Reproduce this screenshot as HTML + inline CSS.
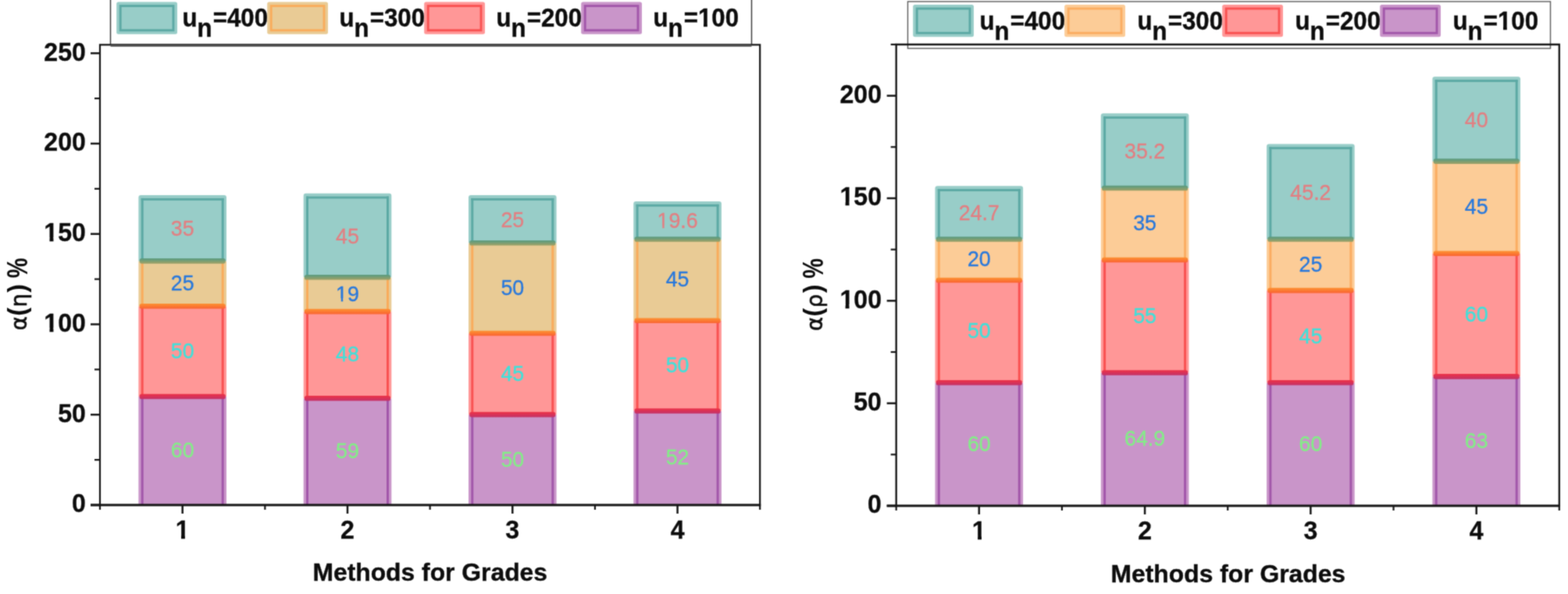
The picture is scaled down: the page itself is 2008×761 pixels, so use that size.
<!DOCTYPE html>
<html lang="en">
<head>
<meta charset="utf-8">
<title>Methods for Grades</title>
<style>
html,body{margin:0;padding:0;background:#fff;}
body{width:2008px;height:761px;overflow:hidden;}
svg{display:block;}
text{font-family:"Liberation Sans",Arial,Helvetica,sans-serif;}
.t{font-size:33.3px;font-weight:bold;fill:#0c0c0c;stroke:#0c0c0c;stroke-width:0.3px;}
.a{font-size:31.6px;font-weight:bold;fill:#0c0c0c;stroke:#0c0c0c;stroke-width:0.4px;}
.y{font-size:30px;font-weight:bold;fill:#0c0c0c;}
.g{font-weight:normal;font-family:"DejaVu Sans","Liberation Sans",sans-serif;font-size:27.5px;stroke:#0c0c0c;stroke-width:0.6px;}
.p{font-size:32.5px;}
.l{font-size:32.4px;font-weight:bold;fill:#0c0c0c;stroke:#0c0c0c;stroke-width:0.4px;}
.v{font-size:28.5px;stroke-width:0.35px;}
</style>
</head>
<body>
<svg width="2008" height="761" viewBox="0 0 2008 761">
<defs>
<linearGradient id="gtt" x1="0" y1="0" x2="0" y2="1"><stop offset="0.15" stop-color="#5f9b7d"/><stop offset="0.85" stop-color="#96a069"/></linearGradient>
<linearGradient id="grt" x1="0" y1="0" x2="0" y2="1"><stop offset="0.15" stop-color="#fc8c32"/><stop offset="0.85" stop-color="#fa6932"/></linearGradient>
<linearGradient id="gpr" x1="0" y1="0" x2="0" y2="1"><stop offset="0.15" stop-color="#e8324b"/><stop offset="0.85" stop-color="#c83264"/></linearGradient>
<clipPath id="k1"><path clip-rule="evenodd" d="M-400 -60H400V40H-400ZM-15.17 -3.43H-8.68V2.0H-15.17ZM-6.16 -3.43H0.12V2.0H-6.16Z"/></clipPath>
<clipPath id="k2"><path clip-rule="evenodd" d="M-400 -60H400V40H-400ZM-27.05 -3.43H-20.55V2.0H-27.05ZM-18.03 -3.43H-11.76V2.0H-18.03Z"/></clipPath>
<clipPath id="k3"><path clip-rule="evenodd" d="M-400 -60H400V40H-400ZM-54.96 -4.70H-48.04V2.0H-54.96ZM-42.97 -4.70H-36.46V2.0H-42.97Z"/></clipPath>
<clipPath id="k4"><path clip-rule="evenodd" d="M-400 -60H400V40H-400ZM-54.96 -4.70H-48.04V2.0H-54.96ZM-42.97 -4.70H-36.46V2.0H-42.97Z"/></clipPath>
<clipPath id="k5"><path clip-rule="evenodd" d="M-400 -60H400V40H-400ZM-8.66 -4.70H-1.74V2.0H-8.66ZM3.33 -4.70H9.83V2.0H3.33Z"/></clipPath>
<clipPath id="k6"><path clip-rule="evenodd" d="M-400 -60H400V40H-400ZM60.25 -4.61H67.02V2.0H60.25ZM71.97 -4.61H78.33V2.0H71.97Z"/></clipPath>
<clipPath id="k7"><path clip-rule="evenodd" d="M-400 -60H400V40H-400ZM-54.96 -4.70H-48.04V2.0H-54.96ZM-42.97 -4.70H-36.46V2.0H-42.97Z"/></clipPath>
<clipPath id="k8"><path clip-rule="evenodd" d="M-400 -60H400V40H-400ZM-54.96 -4.70H-48.04V2.0H-54.96ZM-42.97 -4.70H-36.46V2.0H-42.97Z"/></clipPath>
<clipPath id="k9"><path clip-rule="evenodd" d="M-400 -60H400V40H-400ZM-8.66 -4.70H-1.74V2.0H-8.66ZM3.33 -4.70H9.83V2.0H3.33Z"/></clipPath>
<clipPath id="k10"><path clip-rule="evenodd" d="M-400 -60H400V40H-400ZM60.25 -4.61H67.02V2.0H60.25ZM71.97 -4.61H78.33V2.0H71.97Z"/></clipPath>
<filter id="soft" filterUnits="userSpaceOnUse" x="0" y="0" width="2008" height="761" color-interpolation-filters="sRGB"><feConvolveMatrix order="3" kernelMatrix="0.0841 0.2900 0.0841 0.2900 1.0000 0.2900 0.0841 0.2900 0.0841" edgeMode="duplicate" preserveAlpha="false"/></filter>
</defs>
<g filter="url(#soft)">
<rect width="2008" height="761" fill="#fff"/>
<g id="c1">
<g class="ln">
<rect x="141.5" y="-5" width="821.0" height="62.3" fill="#fff" stroke="#333" stroke-width="1.4"/>
</g>
<g class="bars">
<rect x="149.20" y="2.60" width="77.80" height="41.20" rx="2.5" fill="#98cdc8"/><rect x="154.20" y="7.60" width="67.80" height="31.20" fill="none" stroke="#5ca9a4" stroke-width="2.9"/>
<rect x="342.20" y="2.60" width="77.80" height="41.20" rx="2.5" fill="#e9cb95"/><rect x="347.20" y="7.60" width="67.80" height="31.20" fill="none" stroke="#f9ac5c" stroke-width="2.9"/>
<rect x="543.20" y="2.60" width="77.80" height="41.20" rx="2.5" fill="#ff9797"/><rect x="548.20" y="7.60" width="67.80" height="31.20" fill="none" stroke="#f95252" stroke-width="2.9"/>
<rect x="744.20" y="2.60" width="77.80" height="41.20" rx="2.5" fill="#c995c9"/><rect x="749.20" y="7.60" width="67.80" height="31.20" fill="none" stroke="#a257aa" stroke-width="2.9"/>
<rect x="177.40" y="508.09" width="112.60" height="138.91" fill="#c995c9"/>
<rect x="180.70" y="508.09" width="3.0" height="138.91" fill="#a257aa"/>
<rect x="283.70" y="508.09" width="3.0" height="138.91" fill="#a257aa"/>
<rect x="177.40" y="392.33" width="112.60" height="115.76" fill="#ff9797"/>
<rect x="180.70" y="392.33" width="3.0" height="115.76" fill="#f95252"/>
<rect x="283.70" y="392.33" width="3.0" height="115.76" fill="#f95252"/>
<rect x="177.40" y="334.45" width="112.60" height="57.88" fill="#e9cb95"/>
<rect x="180.70" y="334.45" width="3.0" height="57.88" fill="#f9ac5c"/>
<rect x="283.70" y="334.45" width="3.0" height="57.88" fill="#f9ac5c"/>
<path d="M177.40 334.45V253.12Q177.40 250.12 180.40 250.12H287.00Q290.00 250.12 290.00 253.12V334.45Z" fill="#98cdc8"/>
<rect x="180.70" y="253.92" width="106.00" height="2.9" fill="#5ca9a4"/>
<rect x="180.70" y="253.92" width="3.0" height="81.03" fill="#5ca9a4"/>
<rect x="283.70" y="253.92" width="3.0" height="81.03" fill="#5ca9a4"/>
<rect x="178.70" y="504.69" width="110.00" height="6.6" rx="2.6" fill="url(#gpr)"/>
<rect x="178.70" y="388.93" width="110.00" height="6.6" rx="2.6" fill="url(#grt)"/>
<rect x="178.70" y="331.05" width="110.00" height="6.6" rx="2.6" fill="url(#gtt)"/>
<rect x="388.70" y="510.40" width="112.60" height="136.60" fill="#c995c9"/>
<rect x="392.00" y="510.40" width="3.0" height="136.60" fill="#a257aa"/>
<rect x="495.00" y="510.40" width="3.0" height="136.60" fill="#a257aa"/>
<rect x="388.70" y="399.27" width="112.60" height="111.13" fill="#ff9797"/>
<rect x="392.00" y="399.27" width="3.0" height="111.13" fill="#f95252"/>
<rect x="495.00" y="399.27" width="3.0" height="111.13" fill="#f95252"/>
<rect x="388.70" y="355.28" width="112.60" height="43.99" fill="#e9cb95"/>
<rect x="392.00" y="355.28" width="3.0" height="43.99" fill="#f9ac5c"/>
<rect x="495.00" y="355.28" width="3.0" height="43.99" fill="#f9ac5c"/>
<path d="M388.70 355.28V250.80Q388.70 247.80 391.70 247.80H498.30Q501.30 247.80 501.30 250.80V355.28Z" fill="#98cdc8"/>
<rect x="392.00" y="251.60" width="106.00" height="2.9" fill="#5ca9a4"/>
<rect x="392.00" y="251.60" width="3.0" height="104.18" fill="#5ca9a4"/>
<rect x="495.00" y="251.60" width="3.0" height="104.18" fill="#5ca9a4"/>
<rect x="390.00" y="507.00" width="110.00" height="6.6" rx="2.6" fill="url(#gpr)"/>
<rect x="390.00" y="395.87" width="110.00" height="6.6" rx="2.6" fill="url(#grt)"/>
<rect x="390.00" y="351.88" width="110.00" height="6.6" rx="2.6" fill="url(#gtt)"/>
<rect x="600.00" y="531.24" width="112.60" height="115.76" fill="#c995c9"/>
<rect x="603.30" y="531.24" width="3.0" height="115.76" fill="#a257aa"/>
<rect x="706.30" y="531.24" width="3.0" height="115.76" fill="#a257aa"/>
<rect x="600.00" y="427.06" width="112.60" height="104.18" fill="#ff9797"/>
<rect x="603.30" y="427.06" width="3.0" height="104.18" fill="#f95252"/>
<rect x="706.30" y="427.06" width="3.0" height="104.18" fill="#f95252"/>
<rect x="600.00" y="311.30" width="112.60" height="115.76" fill="#e9cb95"/>
<rect x="603.30" y="311.30" width="3.0" height="115.76" fill="#f9ac5c"/>
<rect x="706.30" y="311.30" width="3.0" height="115.76" fill="#f9ac5c"/>
<path d="M600.00 311.30V253.12Q600.00 250.12 603.00 250.12H709.60Q712.60 250.12 712.60 253.12V311.30Z" fill="#98cdc8"/>
<rect x="603.30" y="253.92" width="106.00" height="2.9" fill="#5ca9a4"/>
<rect x="603.30" y="253.92" width="3.0" height="57.88" fill="#5ca9a4"/>
<rect x="706.30" y="253.92" width="3.0" height="57.88" fill="#5ca9a4"/>
<rect x="601.30" y="527.84" width="110.00" height="6.6" rx="2.6" fill="url(#gpr)"/>
<rect x="601.30" y="423.66" width="110.00" height="6.6" rx="2.6" fill="url(#grt)"/>
<rect x="601.30" y="307.90" width="110.00" height="6.6" rx="2.6" fill="url(#gtt)"/>
<rect x="811.30" y="526.61" width="112.60" height="120.39" fill="#c995c9"/>
<rect x="814.60" y="526.61" width="3.0" height="120.39" fill="#a257aa"/>
<rect x="917.60" y="526.61" width="3.0" height="120.39" fill="#a257aa"/>
<rect x="811.30" y="410.85" width="112.60" height="115.76" fill="#ff9797"/>
<rect x="814.60" y="410.85" width="3.0" height="115.76" fill="#f95252"/>
<rect x="917.60" y="410.85" width="3.0" height="115.76" fill="#f95252"/>
<rect x="811.30" y="306.67" width="112.60" height="104.18" fill="#e9cb95"/>
<rect x="814.60" y="306.67" width="3.0" height="104.18" fill="#f9ac5c"/>
<rect x="917.60" y="306.67" width="3.0" height="104.18" fill="#f9ac5c"/>
<path d="M811.30 306.67V260.99Q811.30 257.99 814.30 257.99H920.90Q923.90 257.99 923.90 260.99V306.67Z" fill="#98cdc8"/>
<rect x="814.60" y="261.79" width="106.00" height="2.9" fill="#5ca9a4"/>
<rect x="814.60" y="261.79" width="3.0" height="45.38" fill="#5ca9a4"/>
<rect x="917.60" y="261.79" width="3.0" height="45.38" fill="#5ca9a4"/>
<rect x="812.60" y="523.21" width="110.00" height="6.6" rx="2.6" fill="url(#gpr)"/>
<rect x="812.60" y="407.45" width="110.00" height="6.6" rx="2.6" fill="url(#grt)"/>
<rect x="812.60" y="303.27" width="110.00" height="6.6" rx="2.6" fill="url(#gtt)"/>
</g>
<g class="ln">
<path d="M128.0 647V57.4H973.2V647" fill="none" stroke="#161616" stroke-width="2.2"/>
<path d="M141.5 58.2H962.5" fill="none" stroke="#4a4a4a" stroke-width="3.2"/>
<path d="M116.0 647H974.2" fill="none" stroke="#161616" stroke-width="2.8"/>
<path d="M116.0 647.00H128.0" stroke="#161616" stroke-width="2.5"/>
<path d="M116.0 531.24H128.0" stroke="#161616" stroke-width="2.5"/>
<path d="M116.0 415.48H128.0" stroke="#161616" stroke-width="2.5"/>
<path d="M116.0 299.72H128.0" stroke="#161616" stroke-width="2.5"/>
<path d="M116.0 183.96H128.0" stroke="#161616" stroke-width="2.5"/>
<path d="M116.0 68.20H128.0" stroke="#161616" stroke-width="2.5"/>
<path d="M121.0 589.12H128.0" stroke="#161616" stroke-width="2.2"/>
<path d="M121.0 473.36H128.0" stroke="#161616" stroke-width="2.2"/>
<path d="M121.0 357.60H128.0" stroke="#161616" stroke-width="2.2"/>
<path d="M121.0 241.84H128.0" stroke="#161616" stroke-width="2.2"/>
<path d="M121.0 126.08H128.0" stroke="#161616" stroke-width="2.2"/>
<path d="M233.7 647v11" stroke="#161616" stroke-width="2.5"/>
<path d="M445.0 647v11" stroke="#161616" stroke-width="2.5"/>
<path d="M656.3 647v11" stroke="#161616" stroke-width="2.5"/>
<path d="M867.6 647v11" stroke="#161616" stroke-width="2.5"/>
<path d="M339.35 647v6" stroke="#161616" stroke-width="2.2"/>
<path d="M550.65 647v6" stroke="#161616" stroke-width="2.2"/>
<path d="M761.95 647v6" stroke="#161616" stroke-width="2.2"/>
<path d="M128.0 647v6" stroke="#161616" stroke-width="2.2"/>
<path d="M973.2 647v6" stroke="#161616" stroke-width="2.2"/>
</g>
<g class="tx">
<text class="v" text-anchor="middle" transform="translate(233.70 585.94) scale(0.94 1)" fill="#84ec88" stroke="#84ec88">60</text>
<text class="v" text-anchor="middle" transform="translate(233.70 458.61) scale(0.94 1)" fill="#3fe0da" stroke="#3fe0da">50</text>
<text class="v" text-anchor="middle" transform="translate(233.70 371.79) scale(0.94 1)" fill="#2878dc" stroke="#2878dc">25</text>
<text class="v" text-anchor="middle" transform="translate(233.70 302.33) scale(0.94 1)" fill="#e27f82" stroke="#e27f82">35</text>
<text class="v" text-anchor="middle" transform="translate(445.00 587.10) scale(0.94 1)" fill="#84ec88" stroke="#84ec88">59</text>
<text class="v" text-anchor="middle" transform="translate(445.00 463.24) scale(0.94 1)" fill="#3fe0da" stroke="#3fe0da">48</text>
<text class="v" text-anchor="middle" transform="translate(445.00 385.68) scale(0.94 1)" fill="#2878dc" stroke="#2878dc" clip-path="url(#k1)">19</text>
<text class="v" text-anchor="middle" transform="translate(445.00 311.59) scale(0.94 1)" fill="#e27f82" stroke="#e27f82">45</text>
<text class="v" text-anchor="middle" transform="translate(656.30 597.52) scale(0.94 1)" fill="#84ec88" stroke="#84ec88">50</text>
<text class="v" text-anchor="middle" transform="translate(656.30 487.55) scale(0.94 1)" fill="#3fe0da" stroke="#3fe0da">45</text>
<text class="v" text-anchor="middle" transform="translate(656.30 377.58) scale(0.94 1)" fill="#2878dc" stroke="#2878dc">50</text>
<text class="v" text-anchor="middle" transform="translate(656.30 290.76) scale(0.94 1)" fill="#e27f82" stroke="#e27f82">25</text>
<text class="v" text-anchor="middle" transform="translate(867.60 595.20) scale(0.94 1)" fill="#84ec88" stroke="#84ec88">52</text>
<text class="v" text-anchor="middle" transform="translate(867.60 477.13) scale(0.94 1)" fill="#3fe0da" stroke="#3fe0da">50</text>
<text class="v" text-anchor="middle" transform="translate(867.60 367.16) scale(0.94 1)" fill="#2878dc" stroke="#2878dc">45</text>
<text class="v" text-anchor="middle" transform="translate(867.60 292.38) scale(0.94 1)" fill="#e27f82" stroke="#e27f82" clip-path="url(#k2)">19.6</text>
<text class="t" text-anchor="end" transform="translate(109.90 656.30) scale(0.965 1)">0</text>
<text class="t" text-anchor="end" transform="translate(109.90 540.54) scale(0.965 1)">50</text>
<text class="t" text-anchor="end" transform="translate(109.90 424.78) scale(0.965 1)" clip-path="url(#k3)">100</text>
<text class="t" text-anchor="end" transform="translate(109.90 309.02) scale(0.965 1)" clip-path="url(#k4)">150</text>
<text class="t" text-anchor="end" transform="translate(109.90 193.26) scale(0.965 1)">200</text>
<text class="t" text-anchor="end" transform="translate(109.90 77.50) scale(0.965 1)">250</text>
<text class="t" text-anchor="middle" transform="translate(233.70 690.00) scale(0.965 1)" clip-path="url(#k5)">1</text>
<text class="t" text-anchor="middle" transform="translate(445.00 690.00) scale(0.965 1)">2</text>
<text class="t" text-anchor="middle" transform="translate(656.30 690.00) scale(0.965 1)">3</text>
<text class="t" text-anchor="middle" transform="translate(867.60 690.00) scale(0.965 1)">4</text>
<text class="a" text-anchor="middle" transform="translate(550.70 744.00) scale(1.007 1)">Methods for Grades</text>
<text class="y" transform="translate(34.2 423.30) rotate(-90)"><tspan class="g">α</tspan><tspan class="p" dx="0.3" dy="-1.3">(</tspan><tspan class="g" dx="0.5" dy="1.3">η</tspan><tspan class="p" dx="1.3" dy="-1.3">)</tspan></text>
<text class="y" transform="translate(34.6 356.20) rotate(-90) scale(0.97 1.25)">%</text>
<text class="l" text-anchor="start" transform="translate(233.50 34.40) scale(0.963 1)">u<tspan dy="12.6">n</tspan><tspan dy="-12.6" dx="1.2">=400</tspan></text>
<text class="l" text-anchor="start" transform="translate(434.50 34.40) scale(0.963 1)">u<tspan dy="12.6">n</tspan><tspan dy="-12.6" dx="1.2">=300</tspan></text>
<text class="l" text-anchor="start" transform="translate(635.50 34.40) scale(0.963 1)">u<tspan dy="12.6">n</tspan><tspan dy="-12.6" dx="1.2">=200</tspan></text>
<text class="l" text-anchor="start" transform="translate(836.50 34.40) scale(0.963 1)" clip-path="url(#k6)">u<tspan dy="12.6">n</tspan><tspan dy="-12.6" dx="1.2">=100</tspan></text>
</g>
</g>
<g id="c2">
<g class="ln">
<rect x="1162.5" y="2" width="823.0" height="60" fill="#fff" stroke="#5a5a5a" stroke-width="1.4"/>
</g>
<g class="bars">
<rect x="1169.20" y="6.00" width="77.80" height="41.30" rx="2.5" fill="#98cdc8"/><rect x="1174.20" y="11.00" width="67.80" height="31.30" fill="none" stroke="#5ca9a4" stroke-width="2.9"/>
<rect x="1363.20" y="6.00" width="77.80" height="41.30" rx="2.5" fill="#fccc97"/><rect x="1368.20" y="11.00" width="67.80" height="31.30" fill="none" stroke="#fbad62" stroke-width="2.9"/>
<rect x="1565.20" y="6.00" width="77.80" height="41.30" rx="2.5" fill="#ff9797"/><rect x="1570.20" y="11.00" width="67.80" height="31.30" fill="none" stroke="#f95252" stroke-width="2.9"/>
<rect x="1767.20" y="6.00" width="77.80" height="41.30" rx="2.5" fill="#c995c9"/><rect x="1772.20" y="11.00" width="67.80" height="31.30" fill="none" stroke="#a257aa" stroke-width="2.9"/>
<rect x="1197.50" y="490.40" width="112.60" height="157.60" fill="#c995c9"/>
<rect x="1200.80" y="490.40" width="3.0" height="157.60" fill="#a257aa"/>
<rect x="1303.80" y="490.40" width="3.0" height="157.60" fill="#a257aa"/>
<rect x="1197.50" y="359.06" width="112.60" height="131.34" fill="#ff9797"/>
<rect x="1200.80" y="359.06" width="3.0" height="131.34" fill="#f95252"/>
<rect x="1303.80" y="359.06" width="3.0" height="131.34" fill="#f95252"/>
<rect x="1197.50" y="306.53" width="112.60" height="52.53" fill="#fccc97"/>
<rect x="1200.80" y="306.53" width="3.0" height="52.53" fill="#fbad62"/>
<rect x="1303.80" y="306.53" width="3.0" height="52.53" fill="#fbad62"/>
<path d="M1197.50 306.53V241.35Q1197.50 238.35 1200.50 238.35H1307.10Q1310.10 238.35 1310.10 241.35V306.53Z" fill="#98cdc8"/>
<rect x="1200.80" y="242.15" width="106.00" height="2.9" fill="#5ca9a4"/>
<rect x="1200.80" y="242.15" width="3.0" height="64.88" fill="#5ca9a4"/>
<rect x="1303.80" y="242.15" width="3.0" height="64.88" fill="#5ca9a4"/>
<rect x="1198.80" y="487.00" width="110.00" height="6.6" rx="2.6" fill="url(#gpr)"/>
<rect x="1198.80" y="355.66" width="110.00" height="6.6" rx="2.6" fill="url(#grt)"/>
<rect x="1198.80" y="303.13" width="110.00" height="6.6" rx="2.6" fill="url(#gtt)"/>
<rect x="1409.80" y="477.53" width="112.60" height="170.47" fill="#c995c9"/>
<rect x="1413.10" y="477.53" width="3.0" height="170.47" fill="#a257aa"/>
<rect x="1516.10" y="477.53" width="3.0" height="170.47" fill="#a257aa"/>
<rect x="1409.80" y="333.06" width="112.60" height="144.47" fill="#ff9797"/>
<rect x="1413.10" y="333.06" width="3.0" height="144.47" fill="#f95252"/>
<rect x="1516.10" y="333.06" width="3.0" height="144.47" fill="#f95252"/>
<rect x="1409.80" y="241.12" width="112.60" height="91.93" fill="#fccc97"/>
<rect x="1413.10" y="241.12" width="3.0" height="91.93" fill="#fbad62"/>
<rect x="1516.10" y="241.12" width="3.0" height="91.93" fill="#fbad62"/>
<path d="M1409.80 241.12V148.36Q1409.80 145.36 1412.80 145.36H1519.40Q1522.40 145.36 1522.40 148.36V241.12Z" fill="#98cdc8"/>
<rect x="1413.10" y="149.16" width="106.00" height="2.9" fill="#5ca9a4"/>
<rect x="1413.10" y="149.16" width="3.0" height="92.46" fill="#5ca9a4"/>
<rect x="1516.10" y="149.16" width="3.0" height="92.46" fill="#5ca9a4"/>
<rect x="1411.10" y="474.13" width="110.00" height="6.6" rx="2.6" fill="url(#gpr)"/>
<rect x="1411.10" y="329.66" width="110.00" height="6.6" rx="2.6" fill="url(#grt)"/>
<rect x="1411.10" y="237.72" width="110.00" height="6.6" rx="2.6" fill="url(#gtt)"/>
<rect x="1622.10" y="490.40" width="112.60" height="157.60" fill="#c995c9"/>
<rect x="1625.40" y="490.40" width="3.0" height="157.60" fill="#a257aa"/>
<rect x="1728.40" y="490.40" width="3.0" height="157.60" fill="#a257aa"/>
<rect x="1622.10" y="372.20" width="112.60" height="118.20" fill="#ff9797"/>
<rect x="1625.40" y="372.20" width="3.0" height="118.20" fill="#f95252"/>
<rect x="1728.40" y="372.20" width="3.0" height="118.20" fill="#f95252"/>
<rect x="1622.10" y="306.53" width="112.60" height="65.67" fill="#fccc97"/>
<rect x="1625.40" y="306.53" width="3.0" height="65.67" fill="#fbad62"/>
<rect x="1728.40" y="306.53" width="3.0" height="65.67" fill="#fbad62"/>
<path d="M1622.10 306.53V187.50Q1622.10 184.50 1625.10 184.50H1731.70Q1734.70 184.50 1734.70 187.50V306.53Z" fill="#98cdc8"/>
<rect x="1625.40" y="188.30" width="106.00" height="2.9" fill="#5ca9a4"/>
<rect x="1625.40" y="188.30" width="3.0" height="118.73" fill="#5ca9a4"/>
<rect x="1728.40" y="188.30" width="3.0" height="118.73" fill="#5ca9a4"/>
<rect x="1623.40" y="487.00" width="110.00" height="6.6" rx="2.6" fill="url(#gpr)"/>
<rect x="1623.40" y="368.80" width="110.00" height="6.6" rx="2.6" fill="url(#grt)"/>
<rect x="1623.40" y="303.13" width="110.00" height="6.6" rx="2.6" fill="url(#gtt)"/>
<rect x="1834.40" y="482.52" width="112.60" height="165.48" fill="#c995c9"/>
<rect x="1837.70" y="482.52" width="3.0" height="165.48" fill="#a257aa"/>
<rect x="1940.70" y="482.52" width="3.0" height="165.48" fill="#a257aa"/>
<rect x="1834.40" y="324.92" width="112.60" height="157.60" fill="#ff9797"/>
<rect x="1837.70" y="324.92" width="3.0" height="157.60" fill="#f95252"/>
<rect x="1940.70" y="324.92" width="3.0" height="157.60" fill="#f95252"/>
<rect x="1834.40" y="206.71" width="112.60" height="118.20" fill="#fccc97"/>
<rect x="1837.70" y="206.71" width="3.0" height="118.20" fill="#fbad62"/>
<rect x="1940.70" y="206.71" width="3.0" height="118.20" fill="#fbad62"/>
<path d="M1834.40 206.71V101.35Q1834.40 98.35 1837.40 98.35H1944.00Q1947.00 98.35 1947.00 101.35V206.71Z" fill="#98cdc8"/>
<rect x="1837.70" y="102.15" width="106.00" height="2.9" fill="#5ca9a4"/>
<rect x="1837.70" y="102.15" width="3.0" height="105.07" fill="#5ca9a4"/>
<rect x="1940.70" y="102.15" width="3.0" height="105.07" fill="#5ca9a4"/>
<rect x="1835.70" y="479.12" width="110.00" height="6.6" rx="2.6" fill="url(#gpr)"/>
<rect x="1835.70" y="321.52" width="110.00" height="6.6" rx="2.6" fill="url(#grt)"/>
<rect x="1835.70" y="203.31" width="110.00" height="6.6" rx="2.6" fill="url(#gtt)"/>
</g>
<g class="ln">
<path d="M1147.7 648V57.0H1996.8V648" fill="none" stroke="#161616" stroke-width="2.35"/>
<path d="M1135.7 648H1997.8" fill="none" stroke="#161616" stroke-width="2.8"/>
<path d="M1135.7 648.00H1147.7" stroke="#161616" stroke-width="2.5"/>
<path d="M1135.7 516.66H1147.7" stroke="#161616" stroke-width="2.5"/>
<path d="M1135.7 385.33H1147.7" stroke="#161616" stroke-width="2.5"/>
<path d="M1135.7 254.00H1147.7" stroke="#161616" stroke-width="2.5"/>
<path d="M1135.7 122.66H1147.7" stroke="#161616" stroke-width="2.5"/>
<path d="M1140.7 582.33H1147.7" stroke="#161616" stroke-width="2.2"/>
<path d="M1140.7 451.00H1147.7" stroke="#161616" stroke-width="2.2"/>
<path d="M1140.7 319.66H1147.7" stroke="#161616" stroke-width="2.2"/>
<path d="M1140.7 188.33H1147.7" stroke="#161616" stroke-width="2.2"/>
<path d="M1140.7 56.99H1147.7" stroke="#161616" stroke-width="2.2"/>
<path d="M1253.8 648v11" stroke="#161616" stroke-width="2.5"/>
<path d="M1466.1 648v11" stroke="#161616" stroke-width="2.5"/>
<path d="M1678.4 648v11" stroke="#161616" stroke-width="2.5"/>
<path d="M1890.7 648v11" stroke="#161616" stroke-width="2.5"/>
<path d="M1359.95 648v6" stroke="#161616" stroke-width="2.2"/>
<path d="M1572.25 648v6" stroke="#161616" stroke-width="2.2"/>
<path d="M1784.55 648v6" stroke="#161616" stroke-width="2.2"/>
<path d="M1147.7 648v6" stroke="#161616" stroke-width="2.2"/>
<path d="M1996.8 648v6" stroke="#161616" stroke-width="2.2"/>
</g>
<g class="tx">
<text class="v" text-anchor="middle" transform="translate(1253.80 577.60) scale(0.94 1)" fill="#84ec88" stroke="#84ec88">60</text>
<text class="v" text-anchor="middle" transform="translate(1253.80 433.13) scale(0.94 1)" fill="#3fe0da" stroke="#3fe0da">50</text>
<text class="v" text-anchor="middle" transform="translate(1253.80 341.20) scale(0.94 1)" fill="#2878dc" stroke="#2878dc">20</text>
<text class="v" text-anchor="middle" transform="translate(1253.80 282.49) scale(0.94 1)" fill="#e27f82" stroke="#e27f82">24.7</text>
<text class="v" text-anchor="middle" transform="translate(1466.10 571.16) scale(0.94 1)" fill="#84ec88" stroke="#84ec88">64.9</text>
<text class="v" text-anchor="middle" transform="translate(1466.10 413.69) scale(0.94 1)" fill="#3fe0da" stroke="#3fe0da">55</text>
<text class="v" text-anchor="middle" transform="translate(1466.10 295.49) scale(0.94 1)" fill="#2878dc" stroke="#2878dc">35</text>
<text class="v" text-anchor="middle" transform="translate(1466.10 203.29) scale(0.94 1)" fill="#e27f82" stroke="#e27f82">35.2</text>
<text class="v" text-anchor="middle" transform="translate(1678.40 577.60) scale(0.94 1)" fill="#84ec88" stroke="#84ec88">60</text>
<text class="v" text-anchor="middle" transform="translate(1678.40 439.70) scale(0.94 1)" fill="#3fe0da" stroke="#3fe0da">45</text>
<text class="v" text-anchor="middle" transform="translate(1678.40 347.76) scale(0.94 1)" fill="#2878dc" stroke="#2878dc">25</text>
<text class="v" text-anchor="middle" transform="translate(1678.40 255.57) scale(0.94 1)" fill="#e27f82" stroke="#e27f82">45.2</text>
<text class="v" text-anchor="middle" transform="translate(1890.70 573.66) scale(0.94 1)" fill="#84ec88" stroke="#84ec88">63</text>
<text class="v" text-anchor="middle" transform="translate(1890.70 412.12) scale(0.94 1)" fill="#3fe0da" stroke="#3fe0da">60</text>
<text class="v" text-anchor="middle" transform="translate(1890.70 274.22) scale(0.94 1)" fill="#2878dc" stroke="#2878dc">45</text>
<text class="v" text-anchor="middle" transform="translate(1890.70 162.58) scale(0.94 1)" fill="#e27f82" stroke="#e27f82">40</text>
<text class="t" text-anchor="end" transform="translate(1129.00 657.30) scale(0.965 1)">0</text>
<text class="t" text-anchor="end" transform="translate(1129.00 525.96) scale(0.965 1)">50</text>
<text class="t" text-anchor="end" transform="translate(1129.00 394.63) scale(0.965 1)" clip-path="url(#k7)">100</text>
<text class="t" text-anchor="end" transform="translate(1129.00 263.30) scale(0.965 1)" clip-path="url(#k8)">150</text>
<text class="t" text-anchor="end" transform="translate(1129.00 131.96) scale(0.965 1)">200</text>
<text class="t" text-anchor="middle" transform="translate(1253.80 691.00) scale(0.965 1)" clip-path="url(#k9)">1</text>
<text class="t" text-anchor="middle" transform="translate(1466.10 691.00) scale(0.965 1)">2</text>
<text class="t" text-anchor="middle" transform="translate(1678.40 691.00) scale(0.965 1)">3</text>
<text class="t" text-anchor="middle" transform="translate(1890.70 691.00) scale(0.965 1)">4</text>
<text class="a" text-anchor="middle" transform="translate(1572.80 746.00) scale(1.007 1)">Methods for Grades</text>
<text class="y" transform="translate(1053.4 423.90) rotate(-90)"><tspan class="g">α</tspan><tspan class="p" dx="0.3" dy="-1.3">(</tspan><tspan class="g" dx="0.5" dy="1.3">ρ</tspan><tspan class="p" dx="1.3" dy="-1.3">)</tspan></text>
<text class="y" transform="translate(1053.8000000000002 356.80) rotate(-90) scale(0.97 1.25)">%</text>
<text class="l" text-anchor="start" transform="translate(1254.50 38.10) scale(0.963 1)">u<tspan dy="12.6">n</tspan><tspan dy="-12.6" dx="1.2">=400</tspan></text>
<text class="l" text-anchor="start" transform="translate(1456.50 38.10) scale(0.963 1)">u<tspan dy="12.6">n</tspan><tspan dy="-12.6" dx="1.2">=300</tspan></text>
<text class="l" text-anchor="start" transform="translate(1658.50 38.10) scale(0.963 1)">u<tspan dy="12.6">n</tspan><tspan dy="-12.6" dx="1.2">=200</tspan></text>
<text class="l" text-anchor="start" transform="translate(1860.50 38.10) scale(0.963 1)" clip-path="url(#k10)">u<tspan dy="12.6">n</tspan><tspan dy="-12.6" dx="1.2">=100</tspan></text>
</g>
</g>
</g>
</svg>
</body>
</html>
